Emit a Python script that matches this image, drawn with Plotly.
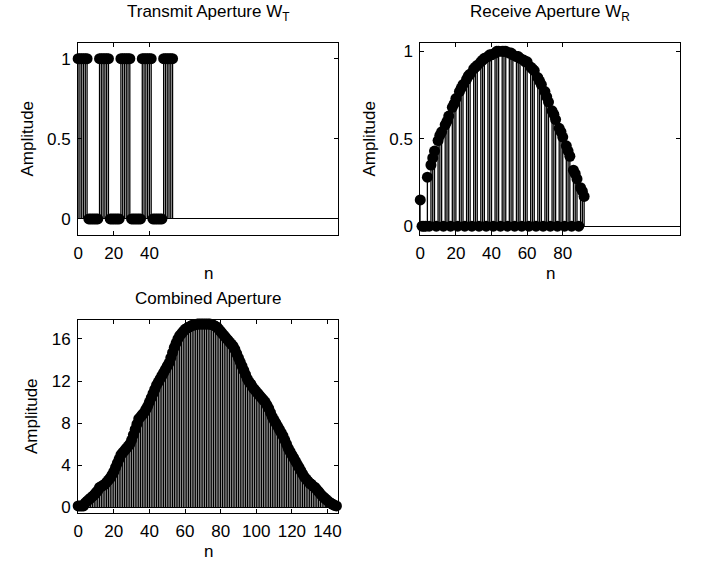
import plotly.graph_objects as go

# ---- data ----
transmit = [1, 1, 1, 1, 1, 1, 0, 0, 0, 0, 0, 0,
            1, 1, 1, 1, 1, 1, 0, 0, 0, 0, 0, 0,
            1, 1, 1, 1, 1, 1, 0, 0, 0, 0, 0, 0,
            1, 1, 1, 1, 1, 1, 0, 0, 0, 0, 0, 0,
            1, 1, 1, 1, 1, 1]

receive = [0.15, 0, 0, 0, 0.28, 0, 0.35, 0.39, 0.43, 0,
           0.49, 0.52, 0.54, 0, 0.58, 0.60, 0.63, 0, 0.68, 0.70,
           0.73, 0, 0.77, 0.79, 0.81, 0, 0.84, 0.86, 0.87, 0,
           0.90, 0.91, 0.92, 0, 0.94, 0.95, 0.96, 0, 0.97, 0.98,
           0.98, 0, 0.99, 1.0, 1.0, 0, 1.0, 1.0, 1.0, 0,
           0.99, 0.99, 0.98, 0, 0.97, 0.97, 0.96, 0, 0.95, 0.94,
           0.94, 0, 0.91, 0.90, 0.89, 0, 0.85, 0.83, 0.81, 0,
           0.77, 0.74, 0.71, 0, 0.66, 0.64, 0.61, 0, 0.56, 0.54,
           0.51, 0, 0.46, 0.43, 0.40, 0, 0.32, 0.30, 0.27, 0,
           0.22, 0.20, 0.17]

combined = [0.15, 0.15, 0.15, 0.15, 0.43, 0.6, 0.75, 0.9, 1.05, 1.2,
            1.4, 1.6, 1.9, 2.0, 2.1, 2.2, 2.4, 2.6, 2.8, 3.1,
            3.4, 3.8, 4.2, 4.6, 5.0, 5.2, 5.4, 5.6, 5.8, 6.0,
            6.4, 6.9, 7.4, 7.9, 8.4, 8.6, 8.8, 9.0, 9.3, 9.6,
            10.0, 10.4, 10.8, 11.2, 11.6, 11.9, 12.2, 12.5, 12.8, 13.1,
            13.4, 13.7, 14.2, 14.7, 15.2, 15.6, 16.0, 16.3, 16.5, 16.7,
            16.9, 17.0, 17.1, 17.2, 17.3, 17.3, 17.35, 17.4, 17.4, 17.4,
            17.4, 17.4, 17.4, 17.4, 17.4, 17.35, 17.3, 17.2, 17.1, 16.9,
            16.7, 16.5, 16.3, 16.1, 15.9, 15.7, 15.5, 15.3, 15.0, 14.6,
            14.2, 13.8, 13.4, 13.0, 12.6, 12.2, 11.9, 11.7, 11.4, 11.2,
            11.0, 10.8, 10.6, 10.4, 10.2, 10.0, 9.7, 9.4, 9.0, 8.6,
            8.3, 8.0, 7.7, 7.4, 7.1, 6.8, 6.4, 6.0, 5.6, 5.3,
            5.0, 4.7, 4.4, 4.1, 3.8, 3.5, 3.2, 2.9, 2.7, 2.5,
            2.3, 2.2, 2.0, 1.9, 1.7, 1.5, 1.3, 1.1, 0.95, 0.8,
            0.65, 0.5, 0.4, 0.3, 0.2, 0.15]

titles = ["Transmit Aperture W<sub>T</sub>", "Receive Aperture W<sub>R</sub>", "Combined Aperture"]
x_ticks = [[0, 20, 40], [0, 20, 40, 60, 80], [0, 20, 40, 60, 80, 100, 120, 140]]
y_ticks = [[0, 0.5, 1], [0, 0.5, 1], [0, 4, 8, 12, 16]]
y_tick_text = [["0", "0.5", "1"], ["0", "0.5", "1"], ["0", "4", "8", "12", "16"]]
x_ranges = [[0, 146], [0, 146], [0, 146]]
y_ranges = [[-0.1, 1.1], [-0.05, 1.05], [-0.5, 17.8]]

W, H = 709, 572
# pixel boxes of the three axes: (left, right, top, bottom)
boxes = [(74, 337, 43, 237), (420, 683, 43, 237), (74, 337, 322.7, 517.3)]

FONT = "Liberation Sans, Arial, sans-serif"
FS = 17

fig = go.Figure()
series = [transmit, receive, combined]
for k, vals in enumerate(series):
    xs, ys = [], []
    for i, v in enumerate(vals):
        xs += [i, i, None]
        ys += [0, v, None]
    sfx = "" if k == 0 else str(k + 1)
    fig.add_trace(go.Scatter(x=xs, y=ys, mode="lines", line=dict(color="black", width=1.3),
                             xaxis="x" + sfx, yaxis="y" + sfx, showlegend=False, hoverinfo="skip"))
    fig.add_trace(go.Scatter(x=list(range(len(vals))), y=vals, mode="markers",
                             marker=dict(color="black", size=11, line=dict(width=0)),
                             cliponaxis=False, xaxis="x" + sfx, yaxis="y" + sfx, showlegend=False))

layout = dict(width=W, height=H, margin=dict(l=0, r=0, t=0, b=0),
              paper_bgcolor="white", plot_bgcolor="white",
              font=dict(family=FONT, size=FS, color="black"), showlegend=False)

for k, (l, r, t, b) in enumerate(boxes):
    sfx = "" if k == 0 else str(k + 1)
    layout["xaxis" + sfx] = dict(domain=[l / W, r / W], anchor="y" + sfx, range=x_ranges[k],
                                 tickvals=x_ticks[k], ticks="inside", ticklen=4, tickcolor="black",
                                 showline=True, linecolor="black", linewidth=1, mirror="ticks",
                                 showgrid=False, zeroline=False, ticklabelstandoff=3,
                                 tickfont=dict(family=FONT, size=FS, color="black"))
    layout["yaxis" + sfx] = dict(domain=[1 - b / H, 1 - t / H], anchor="x" + sfx, range=y_ranges[k],
                                 tickvals=y_ticks[k], ticktext=y_tick_text[k],
                                 ticks="inside", ticklen=4, tickcolor="black",
                                 showline=True, linecolor="black", linewidth=1, mirror="ticks",
                                 showgrid=False, zeroline=True, zerolinecolor="black", zerolinewidth=1,
                                 ticklabelstandoff=3,
                                 tickfont=dict(family=FONT, size=FS, color="black"))

ann = []
title_pos = [(205.5, 13), (551.5, 13), (205.5, 301)]
for k, (px, py) in enumerate(title_pos):
    ann.append(dict(text=titles[k], x=px / W, y=1 - py / H, xref="paper", yref="paper",
                    showarrow=False, xanchor="center", yanchor="middle",
                    font=dict(family=FONT, size=FS, color="black")))
n_pos = [(205.5, 276), (551.5, 276), (205.5, 556)]
for px, py in n_pos:
    ann.append(dict(text="n", x=px / W, y=1 - py / H, xref="paper", yref="paper",
                    showarrow=False, xanchor="center", yanchor="middle",
                    font=dict(family=FONT, size=FS, color="black")))
amp_pos = [(23, 140), (369, 140), (27, 420)]
for px, py in amp_pos:
    ann.append(dict(text="Amplitude", x=px / W, y=1 - py / H, xref="paper", yref="paper",
                    showarrow=False, xanchor="center", yanchor="middle", textangle=-90,
                    font=dict(family=FONT, size=FS, color="black")))
layout["annotations"] = ann

fig.update_layout(**layout)
fig.write_html("out.html")
